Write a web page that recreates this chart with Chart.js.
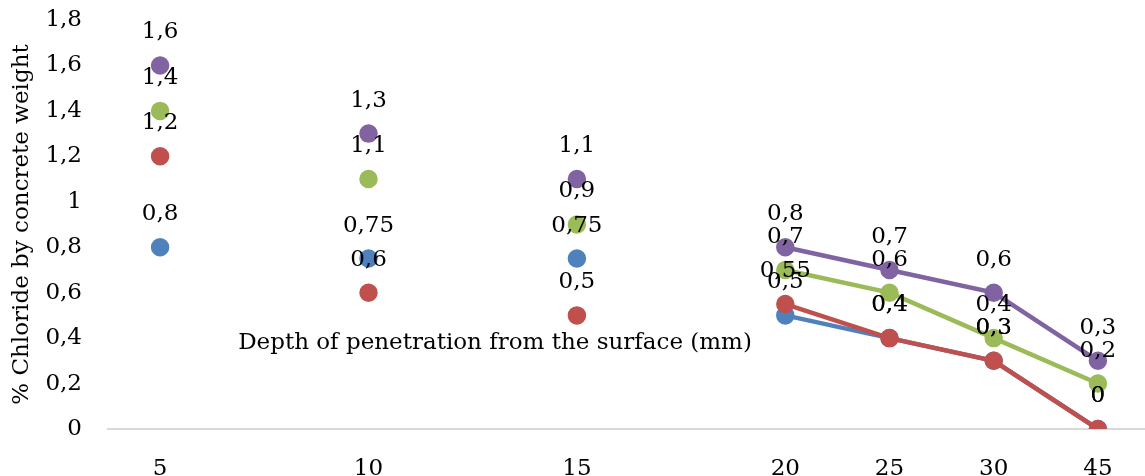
<!DOCTYPE html>
<html>
<head>
<meta charset="utf-8">
<script src="https://cdn.jsdelivr.net/npm/chart.js@4/dist/chart.umd.min.js"></script>
<style>
  html, body { margin: 0; padding: 0; background: #fff; overflow: hidden; }
  #wrap { width: 1145px; height: 476px; overflow: hidden; }
</style>
</head>
<body>
<!-- canvas is a few px wider than the page so the last category's slot runs past the edge -->
<div id="wrap"><canvas id="chart" width="1150" height="476"></canvas></div>
<script>
// depth categories (blank slots keep the 5/10/15 points apart)
const depths = ['5', '', '10', '', '15', '', '20', '25', '30', '45'];
const blueValues = [0.8, null, 0.75, null, 0.75, null, 0.5, 0.4, 0.3, 0];
const redValues = [1.2, null, 0.6, null, 0.5, null, 0.55, 0.4, 0.3, 0];
const greenValues = [1.4, null, 1.1, null, 0.9, null, 0.7, 0.6, 0.4, 0.2];
const purpleValues = [1.6, null, 1.3, null, 1.1, null, 0.8, 0.7, 0.6, 0.3];
const yTicks = [0, 0.2, 0.4, 0.6, 0.8, 1, 1.2, 1.4, 1.6, 1.8];

const FONT = 'DejaVu Serif';
const FONT_SIZE = 23;

const commaNum = (v) => String(Math.round(v * 100) / 100).replace('.', ',');

const makeSet = (data, color, order) => ({
  data: data,
  borderColor: color,
  backgroundColor: color,
  pointBackgroundColor: color,
  pointBorderColor: color,
  borderWidth: 4.5,
  pointRadius: 7,
  pointHoverRadius: 7,
  spanGaps: false,
  tension: 0,
  order: order
});

// value labels above each point
const valueLabels = {
  id: 'valueLabels',
  afterDatasetsDraw(chart) {
    const ctx = chart.ctx;
    ctx.save();
    ctx.font = FONT_SIZE + 'px "' + FONT + '"';
    ctx.fillStyle = '#000';
    ctx.textAlign = 'center';
    ctx.textBaseline = 'middle';
    chart.data.datasets.forEach((ds, i) => {
      const meta = chart.getDatasetMeta(i);
      meta.data.forEach((pt, j) => {
        const v = ds.data[j];
        if (v === null || v === undefined) return;
        ctx.fillText(commaNum(v), pt.x, pt.y - 33);
      });
    });
    ctx.restore();
  }
};

// x axis title sits inside the plot area
const xTitle = {
  id: 'xTitle',
  afterDraw(chart) {
    const ctx = chart.ctx;
    const y = chart.scales.y.getPixelForValue(0.38);
    ctx.save();
    ctx.font = FONT_SIZE + 'px "' + FONT + '"';
    ctx.fillStyle = '#000';
    ctx.textAlign = 'center';
    ctx.textBaseline = 'middle';
    ctx.fillText('Depth of penetration from the surface (mm)', 495, y);
    ctx.restore();
  }
};

new Chart(document.getElementById('chart'), {
  type: 'line',
  data: {
    labels: depths,
    datasets: [
      makeSet(blueValues, '#4F81BD', 4),
      makeSet(redValues, '#C0504D', 3),
      makeSet(greenValues, '#9BBB59', 2),
      makeSet(purpleValues, '#8064A2', 1)
    ]
  },
  options: {
    responsive: false,
    animation: false,
    layout: { autoPadding: false, padding: { top: 20, right: 0, bottom: 0, left: 0 } },
    plugins: {
      legend: { display: false },
      tooltip: { enabled: false }
    },
    scales: {
      x: {
        offset: true,
        grid: { display: false },
        border: { display: true, color: '#D9D9D9', width: 2 },
        ticks: {
          color: '#000',
          font: { family: FONT, size: FONT_SIZE },
          padding: 18,
          autoSkip: false,
          maxRotation: 0
        },
        afterFit(scale) { scale.height = 47; }
      },
      y: {
        min: 0,
        max: 1.8,
        afterBuildTicks(scale) { scale.ticks = yTicks.map(v => ({ value: v })); },
        grid: { display: false },
        border: { display: false },
        ticks: {
          color: '#000',
          font: { family: FONT, size: FONT_SIZE },
          padding: 18,
          callback: (v) => commaNum(v)
        },
        title: {
          display: true,
          text: '% Chloride by concrete weight',
          color: '#000',
          font: { family: FONT, size: FONT_SIZE },
          padding: { top: 8, bottom: 0 }
        },
        afterFit(scale) {
          scale.width = 108;
          scale.paddingTop = 0;
          scale.paddingBottom = 0;
        }
      }
    }
  },
  plugins: [valueLabels, xTitle]
});
</script>
</body>
</html>
